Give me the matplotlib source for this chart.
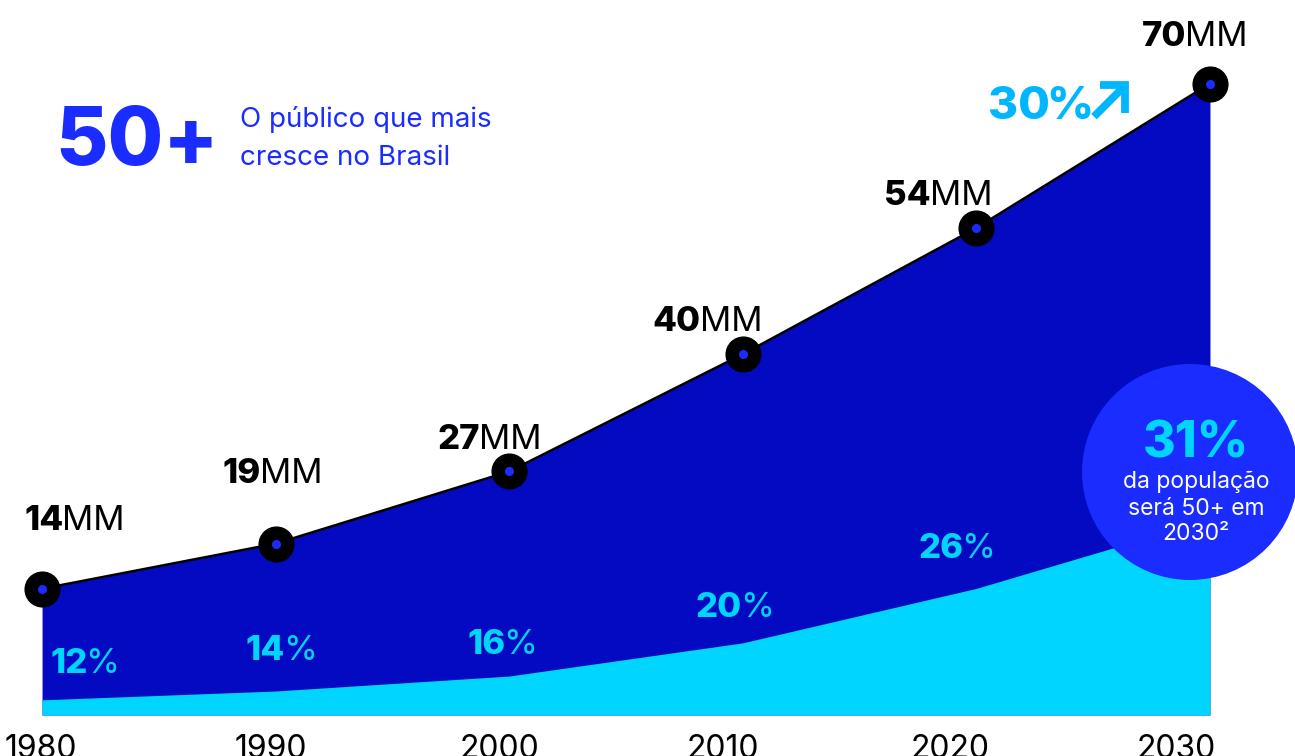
import numpy as np
import matplotlib.pyplot as plt
from matplotlib.patches import Circle
from matplotlib.transforms import IdentityTransform

# Data
years = [1980, 1990, 2000, 2010, 2020, 2030]
pop_mm = [14, 19, 27, 40, 54, 70]          # 50+ population, millions
share_pct = [12, 14, 16, 20, 26, 31]        # share of total population

DARK = '#040ac2'
CYAN = '#00d5ff'
BRIGHT = '#1a2cff'
SKY = '#00b6ff'

plt.rcParams['font.family'] = ['Inter', 'DejaVu Sans']

W, H = 1295, 756
fig = plt.figure(figsize=(W / 100, H / 100), dpi=100)
ax = fig.add_axes([0, 0, 1, 1])
ax.set_axis_off()
ax.set_xlim(1978.2, 2033.64)
ax.set_ylim(-4.545, 79.27)

x = np.array(years)
pop = np.array(pop_mm, dtype=float)
cyan_top = pop * np.array(share_pct) / 100.0

ax.fill_between(x, 0, pop, color=DARK, lw=0, zorder=1)
ax.fill_between(x, 0, cyan_top, color=CYAN, lw=0, zorder=2)
ax.plot(x, pop, color='black', lw=1.8, zorder=3)
ax.plot(x, pop, 'o', ms=25, color='black', zorder=4)
ax.plot(x, pop, 'o', ms=5.5, color=BRIGHT, zorder=5)

renderer = fig.canvas.get_renderer()


def two_part(xy, dx, dy, bold, rest, size, color, gap=0):
    # bold number followed directly by a regular suffix
    t = ax.annotate(bold, xy, xytext=(dx, dy), textcoords='offset pixels',
                    ha='left', va='baseline', fontsize=size, fontweight='heavy',
                    color=color, zorder=6)
    w = t.get_window_extent(renderer).width
    ax.annotate(rest, xy, xytext=(dx + w + gap, dy), textcoords='offset pixels',
                ha='left', va='baseline', fontsize=size, color=color, zorder=6)


# value labels: (left dx, baseline dy) in pixels from each point
mm_offsets = [(-18, 59), (-53, 61), (-72, 22), (-90, 23), (-92, 23), (-68, 38)]
for xi, yi, v, (dx, dy) in zip(x, pop, pop_mm, mm_offsets):
    two_part((xi, yi), dx, dy, str(v), 'MM', 25, 'black', gap=-1)

# share labels (2030 is shown in the circle instead)
pct_offsets = [(8, 27), (-30, 31), (-42, 22), (-47, 26), (-58, 30)]
for xi, yi, v, (dx, dy) in zip(x[:-1], cyan_top[:-1], share_pct[:-1], pct_offsets):
    two_part((xi, yi), dx, dy, str(v), '%', 25, CYAN, gap=-2)

# growth label near 2030
gl = ax.annotate('30', (x[-1], pop[-1]), xytext=(-222, -35), textcoords='offset pixels',
                 ha='left', va='baseline', fontsize=33, fontweight='heavy',
                 color=SKY, zorder=6)
gw = gl.get_window_extent(renderer).width
ax.annotate('%', (x[-1], pop[-1]), xytext=(-222 + gw - 4, -35), textcoords='offset pixels',
            ha='left', va='baseline', fontsize=33, fontweight='heavy',
            color=SKY, zorder=6)
px, py = ax.transData.transform((x[-1], pop[-1]))
ax.plot([px - 116, px - 88], [py - 33, py - 5], color=SKY, lw=5.6,
        solid_capstyle='butt', transform=IdentityTransform(), zorder=6)
ax.plot([px - 110, px - 85, px - 85], [py - 1, py - 1, py - 29], color=SKY, lw=5.6,
        solid_capstyle='butt', solid_joinstyle='miter',
        transform=IdentityTransform(), zorder=6)

# year labels (slightly tighter spacing than the points)
year_dx = [-1, -5, -10, -20, -26, -34]
for xi, dx in zip(years, year_dx):
    ax.annotate(str(xi), (xi, 0), xytext=(dx, -43), textcoords='offset pixels',
                ha='center', va='baseline', fontsize=23, color='black',
                annotation_clip=False)

# headline
fig.text(55 / W, (H - 165) / H, '50+', ha='left', va='baseline',
         fontsize=58, fontweight='heavy', color=BRIGHT)
fig.text(240 / W, (H - 127) / H, 'O público que mais', ha='left', va='baseline',
         fontsize=20, color=BRIGHT)
fig.text(240 / W, (H - 165) / H, 'cresce no Brasil', ha='left', va='baseline',
         fontsize=20, color=BRIGHT)

# circle callout
fig.add_artist(Circle((1190, H - 472), 108, color=BRIGHT, lw=0,
                      transform=IdentityTransform(), zorder=7))
fig.text(1196 / W, (H - 457) / H, '31%', ha='center', va='baseline',
         fontsize=36, fontweight='heavy', color=CYAN, zorder=8)
for txt, base in [('da população', 488), ('será 50+ em', 515), ('2030²', 540)]:
    fig.text(1196 / W, (H - base) / H, txt, ha='center', va='baseline',
             fontsize=16.5, color='white', zorder=8)

fig.savefig('out.png', dpi=100)
